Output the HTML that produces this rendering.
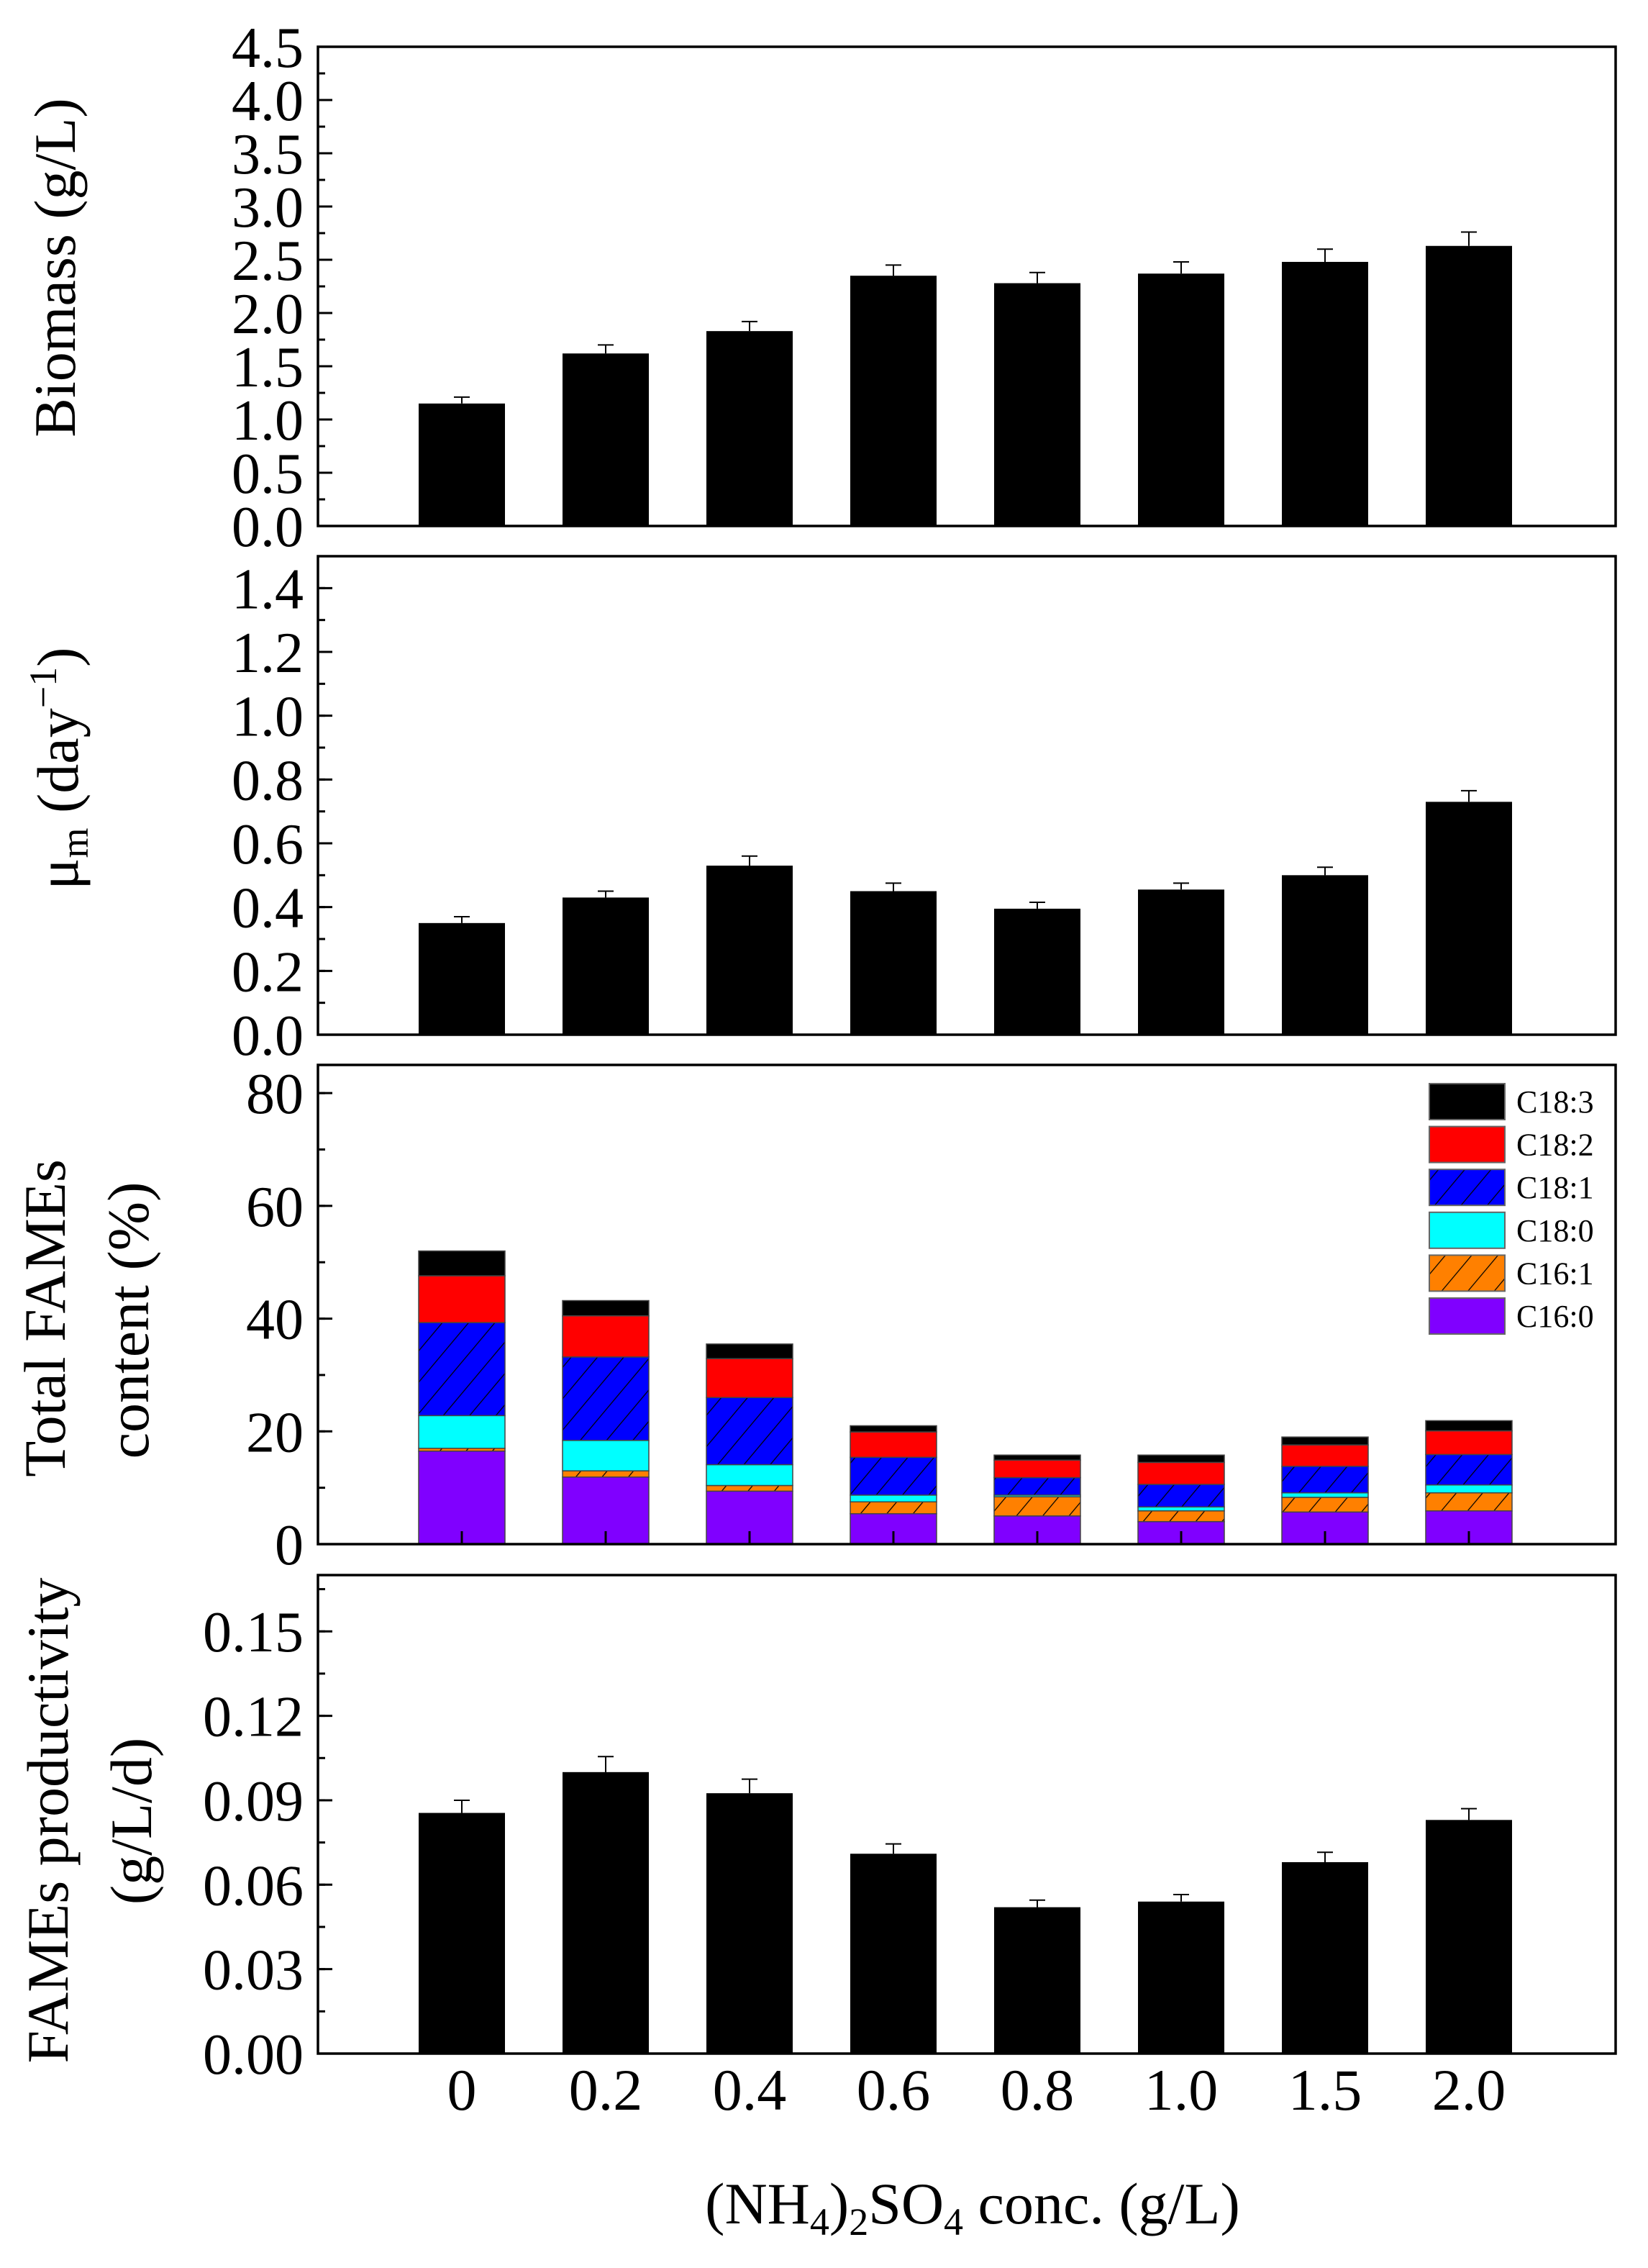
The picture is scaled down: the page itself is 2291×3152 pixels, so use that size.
<!DOCTYPE html>
<html><head><meta charset="utf-8">
<style>
html,body{margin:0;padding:0;background:#fff;}
svg{display:block;}
text{font-family:"Liberation Serif","Times New Roman",serif;}
</style></head>
<body>
<svg id="fig" width="2291" height="3152" viewBox="0 0 2291 3152" xmlns="http://www.w3.org/2000/svg" style="position:absolute;left:0;top:0">
<defs>
<pattern id="hatchBlue" patternUnits="userSpaceOnUse" width="28" height="28" patternTransform="rotate(40)">
<rect width="28" height="28" fill="#0000ff"/><line x1="0" y1="0" x2="0" y2="28" stroke="#000" stroke-width="2.5"/>
</pattern>
<pattern id="hatchOrange" patternUnits="userSpaceOnUse" width="28" height="28" patternTransform="rotate(40)">
<rect width="28" height="28" fill="#ff8000"/><line x1="0" y1="0" x2="0" y2="28" stroke="#000" stroke-width="2.5"/>
</pattern>
</defs>
<g id="root"></g>
</svg>
<script>
const categories = ["0","0.2","0.4","0.6","0.8","1.0","1.5","2.0"];
const biomass = [1.15,1.62,1.83,2.35,2.28,2.37,2.48,2.63];
const biomassErr = [0.06,0.08,0.09,0.10,0.10,0.11,0.12,0.13];
const mu = [0.35,0.43,0.53,0.45,0.395,0.455,0.50,0.73];
const muErr = [0.02,0.02,0.03,0.025,0.02,0.02,0.025,0.035];
const c160 = [16.5,11.9,9.4,5.4,5.0,4.0,5.7,5.9];
const c161 = [0.5,1.1,1.0,2.1,3.4,1.9,2.6,3.2];
const c180 = [5.8,5.4,3.7,1.2,0.3,0.7,0.8,1.4];
const c181 = [16.5,14.8,11.9,6.7,3.1,4.0,4.7,5.4];
const c182 = [8.3,7.3,6.9,4.5,3.1,3.9,3.8,4.2];
const c183 = [4.4,2.7,2.6,1.1,0.9,1.3,1.4,1.8];
const prod = [0.0855,0.100,0.0925,0.071,0.052,0.054,0.068,0.083];
const prodErr = [0.0045,0.0055,0.005,0.0035,0.0025,0.0025,0.0035,0.004];
const ticks1 = ["0.0","0.5","1.0","1.5","2.0","2.5","3.0","3.5","4.0","4.5"];
const ticks2 = ["0.0","0.2","0.4","0.6","0.8","1.0","1.2","1.4"];
const ticks3 = ["0","20","40","60","80"];
const ticks4 = ["0.00","0.03","0.06","0.09","0.12","0.15"];
const seriesNames = ["C16:0","C16:1","C18:0","C18:1","C18:2","C18:3"];

const NS="http://www.w3.org/2000/svg";
const FONT='"Liberation Serif","Times New Roman",serif';
const root=document.getElementById('root');
function mk(tag,attrs,parent){const e=document.createElementNS(NS,tag);for(const k in attrs)e.setAttribute(k,attrs[k]);if(tag==='text')e.setAttribute('font-family',FONT);(parent||root).appendChild(e);return e;}
const X0=442,X1=2246;
function xc(i){return 642+i*200;}
const BW=120;

function panel(name,top,bottom,ymax,ticks,minorStep){
  const g=mk('g',{});
  
  
  const y=v=>bottom-(v/ymax)*(bottom-top);
  for(let v=0;v<=ymax+1e-9;v+=minorStep){
    const t=mk('line',{x1:X0,x2:X0+10,y1:y(v),y2:y(v),stroke:'#000','stroke-width':3},g);
    
    
  }
  ticks.forEach(s=>{
    const v=parseFloat(s);
    const t=mk('line',{x1:X0,x2:X0+20,y1:y(v),y2:y(v),stroke:'#000','stroke-width':3},g);
    
    
    const tx=mk('text',{x:422,y:y(v)+28,'font-size':80,'text-anchor':'end'},g);
    tx.textContent=s;
    
    
  });
  return {g,y};
}
function frame(g,top,bottom){
  const f=mk('rect',{x:X0,y:top,width:X1-X0,height:bottom-top,fill:'none',stroke:'#000','stroke-width':3.5},g);
  
  
  for(let i=0;i<categories.length;i++){
    const t=mk('line',{x1:xc(i),x2:xc(i),y1:bottom,y2:bottom-18,stroke:'#000','stroke-width':3},g);
    
    
  }
}
function barPanel(name,top,bottom,ymax,ticks,minor,vals,errs){
  const p=panel(name,top,bottom,ymax,ticks,minor);
  vals.forEach((v,i)=>{
    const r=mk('rect',{x:xc(i)-BW/2,y:p.y(v),width:BW,height:bottom-p.y(v),fill:'#000'},p.g);
    
    
    const ye=p.y(v+errs[i]);
    const e=mk('path',{d:`M${xc(i)} ${p.y(v)} V${ye} M${xc(i)-11} ${ye} H${xc(i)+11}`,stroke:'#000','stroke-width':2,fill:'none'},p.g);
    
    
  });
  frame(p.g,top,bottom);
  return p;
}
barPanel('biomass-panel',65,731,4.5,ticks1,0.25,biomass,biomassErr);
barPanel('mu-panel',773,1438,1.5,ticks2,0.1,mu,muErr);
barPanel('productivity-panel',2189,2854,0.17,ticks4,0.015,prod,prodErr);

const p3=panel('fames-content-panel',1480,2146,85,ticks3,10);
const stack=[c160,c161,c180,c181,c182,c183];
const fills=['#8000ff','url(#hatchOrange)','#00ffff','url(#hatchBlue)','#ff0000','#000000'];
categories.forEach((c,i)=>{
  let cum=0;
  stack.forEach((s,k)=>{
    const y0=p3.y(cum), y1=p3.y(cum+s[i]); cum+=s[i];
    const r=mk('rect',{x:xc(i)-BW/2,y:y1,width:BW,height:y0-y1,fill:fills[k],stroke:'#444','stroke-width':1.5},p3.g);
    
    
  });
});
frame(p3.g,1480,2146);
const order=[5,4,3,2,1,0];
order.forEach((k,j)=>{
  const yy=1506+j*59.6;
  const r=mk('rect',{x:1987,y:yy,width:105,height:50,fill:fills[k],stroke:'#666','stroke-width':2});
  
  
  const t=mk('text',{x:2108,y:yy+40,'font-size':44});
  t.textContent=seriesNames[k];
  
  
});

categories.forEach((c,i)=>{
  const t=mk('text',{x:xc(i),y:2932,'font-size':82,'text-anchor':'middle'});
  t.textContent=c;
  
  
});
</script>
<svg style="position:absolute;left:0;top:0" width="2291" height="3152" xmlns="http://www.w3.org/2000/svg" font-family="'Liberation Serif', 'Times New Roman', serif">
<text font-family="'Liberation Serif', serif" transform="translate(104,372) rotate(-90)" text-anchor="middle" font-size="82">Biomass (g/L)</text>
<text font-family="'Liberation Serif', serif" transform="translate(108,1068) rotate(-90)" text-anchor="middle" font-size="82">μ<tspan font-size="54" dy="14">m</tspan><tspan dy="-14"> (day</tspan><tspan font-size="54" dy="-30">−1</tspan><tspan dy="30">)</tspan></text>
<text font-family="'Liberation Serif', serif" transform="translate(90,1832) rotate(-90)" text-anchor="middle" font-size="82">Total FAMEs</text>
<text font-family="'Liberation Serif', serif" transform="translate(206,1835) rotate(-90)" text-anchor="middle" font-size="82">content (%)</text>
<text font-family="'Liberation Serif', serif" transform="translate(94,2530) rotate(-90)" text-anchor="middle" font-size="82">FAMEs productivity</text>
<text font-family="'Liberation Serif', serif" transform="translate(210,2531) rotate(-90)" text-anchor="middle" font-size="82">(g/L/d)</text>
<text font-family="'Liberation Serif', serif" x="1352" y="3090" text-anchor="middle" font-size="82">(NH<tspan font-size="54" dy="16">4</tspan><tspan dy="-16">)</tspan><tspan font-size="54" dy="16">2</tspan><tspan dy="-16">SO</tspan><tspan font-size="54" dy="16">4</tspan><tspan dy="-16"> conc. (g/L)</tspan></text>
</svg>
</body></html>
